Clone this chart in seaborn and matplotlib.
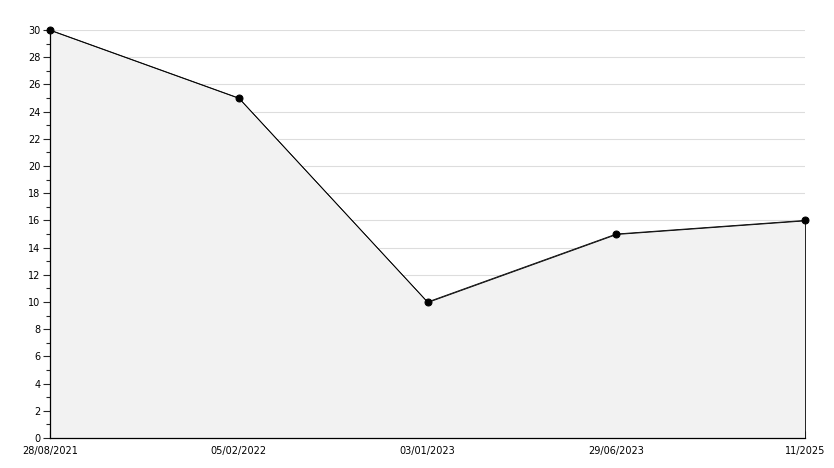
import matplotlib
matplotlib.use("Agg")
import matplotlib.pyplot as plt
import seaborn as sns
import pandas as pd
from matplotlib.ticker import MultipleLocator

dates = ["28/08/2021", "05/02/2022", "03/01/2023", "29/06/2023", "11/2025"]
values = [30, 25, 10, 15, 16]

df = pd.DataFrame({"date": dates, "value": values})

sns.set_style("white")
plt.rcParams["font.family"] = ["DejaVu Sans"]

fig = plt.figure(figsize=(8.34, 4.68), dpi=100)
ax = fig.add_axes([50 / 834, 30 / 468, 755 / 834, 408 / 468])

pos = list(range(len(dates)))
# area under the line, outlined so the right edge closes the shape
ax.fill_between(pos, df["value"], 0, facecolor="#f2f2f2", edgecolor="black",
                linewidth=0.6, zorder=1)
sns.lineplot(data=df, x="date", y="value", ax=ax, color="black", linewidth=0.6,
             marker="o", markersize=5, markeredgecolor="black", sort=False, zorder=3)
for ln in ax.lines:
    ln.set_clip_on(False)

ax.set_xlim(0, len(dates) - 1)
ax.set_ylim(0, 30)
ax.yaxis.set_major_locator(MultipleLocator(2))
ax.yaxis.set_minor_locator(MultipleLocator(1))
ax.grid(axis="y", which="major", color="#dddddd", linewidth=0.8, zorder=0)
ax.set_axisbelow(True)
ax.set_xlabel("")
ax.set_ylabel("")

for s in ["top", "right"]:
    ax.spines[s].set_visible(False)
for s in ["left", "bottom"]:
    ax.spines[s].set_color("black")
    ax.spines[s].set_linewidth(0.9)

ax.tick_params(axis="y", which="major", direction="out", length=5, width=0.8,
               labelsize=7, left=True, pad=2, labelcolor="black")
ax.tick_params(axis="y", which="minor", direction="out", length=3, width=0.8, left=True)
ax.tick_params(axis="x", which="major", direction="in", length=5, width=0.8,
               labelsize=7, bottom=True, pad=6, labelcolor="black")

fig.savefig("out.png", dpi=100)
